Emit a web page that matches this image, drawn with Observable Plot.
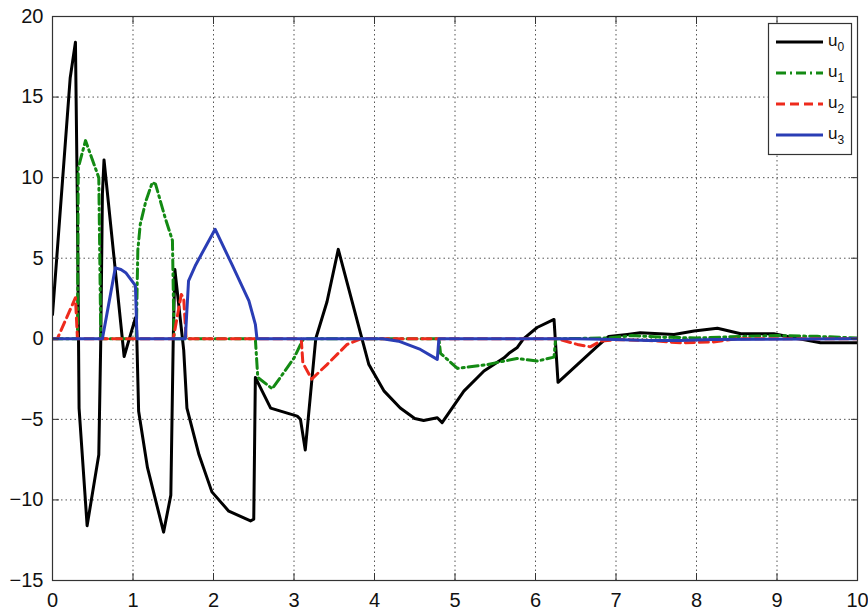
<!DOCTYPE html>
<html><head><meta charset="utf-8">
<script src="https://cdn.jsdelivr.net/npm/d3@7"></script>
<script src="https://cdn.jsdelivr.net/npm/@observablehq/plot@0.6"></script>
<style>body{margin:0;background:#fff;}</style>
</head><body><div id="chart"></div>
<script>
const xTicks = [0,1,2,3,4,5,6,7,8,9,10];
const yTicks = [-15,-10,-5,0,5,10,15,20];
const seriesNames = ["u0","u1","u2","u3"];

const u0T = [0,0.22,0.285,0.31,0.33,0.43,0.575,0.60,0.62,0.64,0.89,1.03,1.045,1.07,1.18,1.38,1.47,1.50,1.52,1.63,1.67,1.82,1.98,2.19,2.46,2.50,2.52,2.58,2.71,3.04,3.08,3.14,3.27,3.41,3.55,3.83,3.93,4.12,4.32,4.5,4.61,4.78,4.84,5.11,5.36,5.61,5.67,5.77,5.85,6.02,6.23,6.28,6.77,6.91,7.14,7.30,7.72,7.97,8.26,8.55,8.96,9.21,9.54,10];
const u0V = [1.5,16.2,18.4,8,-4.3,-11.6,-7.2,0,9,11.1,-1.1,1.3,0.5,-4.5,-8.0,-12.0,-9.7,0,4.3,-0.7,-4.3,-7.2,-9.5,-10.7,-11.3,-11.2,-2.4,-3.0,-4.3,-4.8,-5.0,-6.9,0,2.3,5.55,0.27,-1.6,-3.25,-4.3,-4.95,-5.07,-4.9,-5.2,-3.25,-2.0,-1.18,-0.9,-0.56,0,0.7,1.2,-2.7,-0.45,0.15,0.27,0.37,0.27,0.48,0.65,0.31,0.31,0.06,-0.25,-0.25];

const u1T = [0,0.31,0.32,0.41,0.575,0.60,1.04,1.06,1.09,1.16,1.24,1.28,1.40,1.49,1.51,2.52,2.55,2.73,3.0,3.10,3.12,4.80,4.82,5.03,5.40,5.77,6.02,6.23,6.25,6.9,7.2,7.6,8.0,8.6,9.0,9.5,10];
const u1V = [0,0,10.6,12.3,10.0,0,0,5.5,7.1,8.55,9.7,9.6,7.5,6.1,0,0,-2.4,-3.1,-1.2,-0.15,0,0,-0.9,-1.84,-1.6,-1.22,-1.38,-1.14,0,0.05,0.2,0.1,0.05,0.15,0.2,0.15,0.05];

const u2T = [0,0.06,0.285,0.31,1.50,1.60,1.63,1.66,3.09,3.11,3.22,3.41,3.66,3.83,6.27,6.52,6.68,6.81,7.0,7.4,7.8,8.2,8.5,10];
const u2V = [0,0,2.55,0,0,2.75,2.5,0,0,-1.5,-2.5,-1.6,-0.35,0,0,-0.35,-0.5,-0.15,-0.05,-0.1,-0.25,-0.2,0,0];

const u3T = [0,0.62,0.78,0.85,0.91,1.03,1.05,1.65,1.69,1.78,2.02,2.23,2.44,2.52,2.54,4.1,4.3,4.57,4.78,4.80,6.5,7.0,7.4,7.8,8.2,10];
const u3V = [0,0,4.4,4.3,4.1,3.3,0,0,3.6,4.6,6.8,4.6,2.35,0.9,0,0,-0.15,-0.66,-1.28,0,0,-0.05,-0.1,-0.1,-0.05,0];

const colors = ["#000000","#138a13","#ee2a1c","#2a3db5"];
const dashes = [null,"10,4,2,4","9,5",null];

const allT = [u0T,u1T,u2T,u3T];
const allV = [u0V,u1V,u2V,u3V];
const lines = allT.map((T,i) => {
  const rows = T.map((t,j) => ({t, v: allV[i][j]}));
  return Plot.line(rows, {x:"t", y:"v", stroke: colors[i], strokeWidth: 3,
    strokeDasharray: dashes[i] || undefined, strokeLinejoin: "round", clip: true});
});

const plot = Plot.plot({
  width: 868, height: 611,
  marginLeft: 52, marginRight: 11, marginTop: 16, marginBottom: 31,
  style: {fontFamily: "'Liberation Sans', Arial, sans-serif", fontSize: "20px", color: "#111", background: "#fff", overflow: "visible"},
  x: {domain: [0,10], label: null},
  y: {domain: [-15,20], label: null},
  marks: [
    Plot.gridX(xTicks, {stroke: "#555", strokeOpacity: 1, strokeWidth: 1, strokeDasharray: "1.5,3"}),
    Plot.gridY(yTicks, {stroke: "#555", strokeOpacity: 1, strokeWidth: 1, strokeDasharray: "1.5,3"}),
    ...lines,
    Plot.frame({stroke: "#333", strokeWidth: 1.2}),
    Plot.axisX(xTicks, {anchor: "bottom", tickSize: -7, tickPadding: 19, stroke: "#333"}),
    Plot.axisX(xTicks, {anchor: "top", tickSize: -7, tickFormat: () => "", stroke: "#333"}),
    Plot.axisY(yTicks, {anchor: "left", tickSize: -7, tickPadding: 16, stroke: "#333"}),
    Plot.axisY(yTicks, {anchor: "right", tickSize: -7, tickFormat: () => "", stroke: "#333"})
  ]
});

const svg = d3.select(plot);
const lg = svg.append("g");
lg.append("rect").attr("x",768.5).attr("y",23.5).attr("width",83).attr("height",131)
  .attr("fill","#fff").attr("stroke","#333").attr("stroke-width",1.2);
seriesNames.forEach((name,i) => {
  const y = 42 + i*31;
  lg.append("line").attr("x1",776).attr("x2",823).attr("y1",y).attr("y2",y)
    .attr("stroke",colors[i]).attr("stroke-width",3)
    .attr("stroke-dasharray",dashes[i] || null);
  const tx = lg.append("text").attr("x",828).attr("y",y+4).attr("text-anchor","start")
    .attr("font-family","'Liberation Sans', Arial, sans-serif").attr("font-size",17).attr("fill","#111");
  tx.append("tspan").text(name[0]);
  tx.append("tspan").attr("dy",5).attr("font-size",12).text(name.slice(1));
});

document.getElementById("chart").appendChild(plot);
</script>
</body></html>
